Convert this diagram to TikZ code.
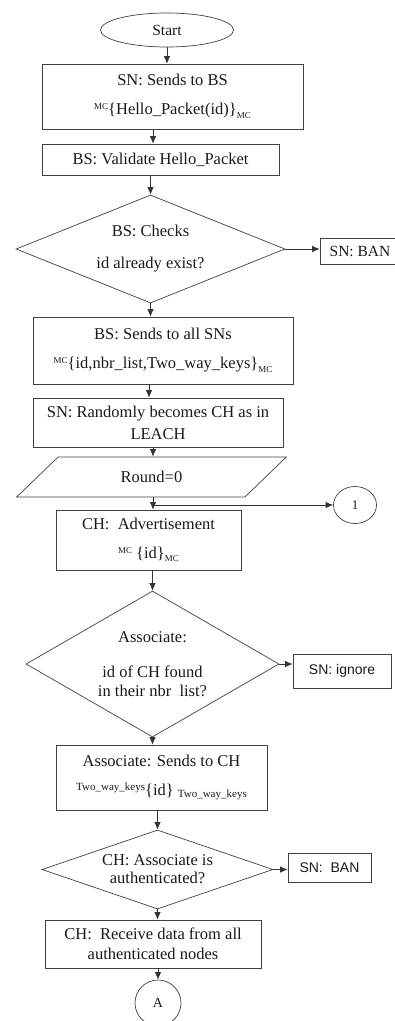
\documentclass[tikz,border=0pt]{standalone}
\usepackage{fontspec}
\setmainfont{Liberation Serif}
\newfontfamily\sansfnt{Liberation Sans}
\usetikzlibrary{shapes.geometric,arrows.meta}
\newcommand{\hitag}[1]{\raisebox{5pt}{\fontsize{9}{9}\selectfont #1}}
\newcommand{\lotag}[1]{\raisebox{-3.5pt}{\fontsize{9}{9}\selectfont #1}}
\newcommand{\keytag}[1]{{\fontsize{11}{11}\selectfont #1}}

\begin{document}
\begin{tikzpicture}[x=1pt, y=-1pt,
    every node/.style={font=\fontsize{16.5}{20}\selectfont, text=black!90},
    box/.style={draw=black!75, line width=0.7pt, rectangle, align=center, inner sep=0pt},
    term/.style={draw=black!75, line width=0.7pt, ellipse, inner sep=0pt},
    decision/.style={draw=black!75, line width=0.7pt, diamond, align=center, inner sep=0pt},
    iobox/.style={draw=black!75, line width=0.7pt, trapezium, trapezium left angle=40.4,
        trapezium right angle=139.6, trapezium stretches=true, inner sep=0pt},
    sidebox/.style={box, font=\sansfnt\fontsize{14}{17}\selectfont},
    arr/.style={draw=black!80, line width=0.7pt, -{Latex[length=7.5pt,width=6.5pt]}}]
    \useasboundingbox (0,0) rectangle (395,1021);
    \clip (0,0) rectangle (395,1021);

    % Registration
    \node[term, minimum width=133pt, minimum height=34pt, font=\fontsize{15.5}{18}\selectfont] (start) at (167,30) {Start};
    \node[box, minimum width=261pt, minimum height=65pt] (sn) at (172.5,96.5)
        {SN: Sends to BS\\[9pt]\hitag{MC}\{Hello\_Packet(id)\}\lotag{MC}};
    \node[box, minimum width=237pt, minimum height=31pt] (val) at (160.5,159.5) {BS: Validate Hello\_Packet};
    \node[decision, aspect=2.5, minimum width=269pt, minimum height=108pt] (chk) at (150.5,249)
        {BS: Checks\\[12pt]id already exist?};
    \node[box, minimum width=80pt, minimum height=26pt, font=\fontsize{15.5}{18}\selectfont] (ban1) at (360,251) {SN: BAN};
    \node[box, minimum width=260pt, minimum height=67pt] (bs) at (163,350.5)
        {BS: Sends to all SNs\\[9pt]\hitag{MC}\{id,nbr\_list,Two\_way\_keys\}\lotag{MC}};
    \node[box, minimum width=250pt, minimum height=49pt] (rand) at (158,422.5)
        {SN: Randomly becomes CH as in\\[2pt]LEACH};
    \node[iobox, minimum width=271pt, minimum height=40pt] (round) at (151.5,477) {Round=0};
    \node[term, minimum width=43pt, minimum height=37pt, font=\fontsize{13}{15}\selectfont] (one) at (355,505) {1};

    % Cluster set-up
    \node[box, minimum width=185pt, minimum height=60pt] (adv) at (148.5,540)
        {CH:\ \ Advertisement\\[9pt]\hitag{MC}\ \{id\}\lotag{MC}};
    \node[decision, aspect=1.73, minimum width=253pt, minimum height=146pt] (assoc) at (152.5,664)
        {Associate:\\[15pt]id of CH found\\[-1pt]in their nbr\ \ list?};
    \node[sidebox, minimum width=98pt, minimum height=34pt] (ign) at (342,671) {SN: ignore};
    \node[box, minimum width=211pt, minimum height=65pt] (snd) at (161.5,777.5)
        {Associate: Sends to CH\\[9pt]\raisebox{5pt}{\keytag{Two\_way\_keys}}\{id\}\ \raisebox{-2pt}{\keytag{Two\_way\_keys}}};
    \node[decision, aspect=2.92, minimum width=231pt, minimum height=79pt] (auth) at (157.5,869.5)
        {CH: Associate is\\[-2pt]authenticated?};
    \node[sidebox, minimum width=83pt, minimum height=29pt] (ban2) at (329.5,867.5) {SN:\ \ BAN};
    \node[box, minimum width=216pt, minimum height=48pt] (recv) at (153,944)
        {CH:\ \ Receive data from all\\authenticated nodes};
    \node[term, minimum width=46pt, minimum height=46pt, font=\fontsize{14}{16}\selectfont] (A) at (158,1003) {A};

    % Flow
    \draw[arr] (start.south) -- (start.south |- sn.north);
    \draw[arr] (sn.south -| 153,0) -- (val.north -| 153,0);
    \draw[arr] (val.south -| chk.north) -- (chk.north);
    \draw[arr] (chk.south) -- (chk.south |- bs.north);
    \draw[arr] (bs.south -| 149,0) -- (rand.north -| 149,0);
    \draw[arr] (rand.south -| 153,0) -- (round.north -| 153,0);
    \draw[arr] (round.south -| 153,0) -- (adv.north -| 153,0);
    \draw[arr] (adv.south -| assoc.north) -- (assoc.north);
    \draw[arr] (assoc.south) -- (assoc.south |- snd.north);
    \draw[arr] (snd.south -| auth.north) -- (auth.north);
    \draw[arr] (auth.south) -- (auth.south |- recv.north);
    \draw[arr] (recv.south -| A.north) -- (A.north);

    % Side branches
    \draw[arr] (chk.east) -- (chk.east -| ban1.west);
    \draw[arr] (one.west -| 153,0) -- (one.west);
    \draw[arr] (assoc.east) -- (assoc.east -| ign.west);
    \draw[arr] (auth.east) -- (auth.east -| ban2.west);
\end{tikzpicture}
\end{document}
